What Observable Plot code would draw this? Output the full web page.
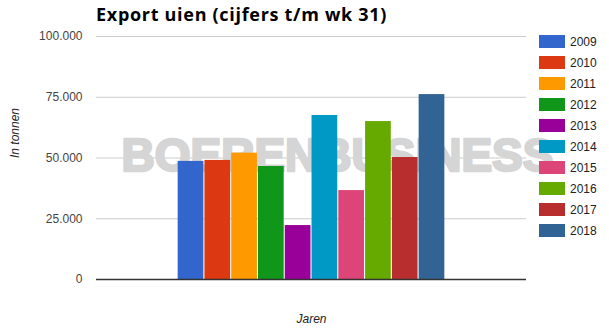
<!DOCTYPE html>
<html>
<head>
<meta charset="utf-8">
<script src="https://cdn.jsdelivr.net/npm/d3@7"></script>
<script src="https://cdn.jsdelivr.net/npm/@observablehq/plot@0.6"></script>
<style>
  html, body { margin: 0; padding: 0; background: #fff; }
  #wrap { position: relative; width: 609px; height: 336px; overflow: hidden; font-family: Arial, "Liberation Sans", sans-serif; }
  #title { position: absolute; left: 96px; top: 2px; font-family: "Open Sans", sans-serif; font-weight: bold; font-size: 18px; letter-spacing: 0.7px; color: #000; white-space: nowrap; }
  #legend { position: absolute; left: 539px; top: 35px; }
  .item { display: flex; align-items: center; height: 13px; margin-bottom: 8px; font-family: Arial, "Liberation Sans", sans-serif; font-size: 12px; color: #222; }
  .sw { width: 26px; height: 13px; margin-right: 5px; }
  #chart { position: absolute; left: 0; top: 0; }
</style>
</head>
<body>
<div id="wrap">
  <div id="chart"></div>
  <div id="title">Export uien (cijfers t/m wk 31)</div>
  <div id="legend"></div>
</div>
<script>
const years = ["2009","2010","2011","2012","2013","2014","2015","2016","2017","2018"];
const tonnes = [48600, 49000, 52000, 46500, 22200, 67500, 36600, 65000, 50200, 76100];
const colors = ["#3366cc","#dc3912","#ff9900","#109618","#990099","#0099c6","#dd4477","#66aa00","#b82e2e","#316395"];
const yTicks = [0, 25000, 50000, 75000, 100000];
const title = "Export uien (cijfers t/m wk 31)";
const yLabel = "In tonnen";
const xLabel = "Jaren";
const watermark = "BOERENBUSINESS";

const data = years.map((y, i) => ({year: y, value: tonnes[i]}));
const fmt = d => d3.format(",")(d).replace(/,/g, ".");

const plot = Plot.plot({
  width: 609,
  height: 336,
  marginTop: 36,
  marginBottom: 57,
  marginLeft: 96,
  marginRight: 83,
  style: {fontFamily: "Arial, 'Liberation Sans', sans-serif", fontSize: "12px", background: "#fff"},
  x: {domain: years, paddingInner: 0.04, paddingOuter: 3.05, round: false, axis: null},
  y: {domain: [0, 100000], ticks: yTicks, tickFormat: fmt, label: null},
  color: {domain: years, range: colors},
  marks: [
    Plot.gridY(yTicks, {stroke: "#cccccc", strokeOpacity: 1}),
    Plot.text([watermark], {frameAnchor: "middle", dx: 26, dy: -2, text: d => d, fontSize: 46, fontWeight: "bold", fill: "#d5d5d5", stroke: "#d5d5d5", strokeWidth: 2.5, letterSpacing: "2px"}),
    Plot.barY(data, {x: "year", y: "value", fill: "year"}),
    Plot.ruleY([0], {stroke: "#333333", strokeWidth: 1.5}),
    Plot.axisY({ticks: yTicks, tickFormat: fmt, tickSize: 0, tickPadding: 14, fill: "#444444", fontSize: 12, label: null}),
    Plot.text([yLabel], {frameAnchor: "left", dx: -81, rotate: -90, text: d => d, fontStyle: "italic", fontSize: 12, fill: "#222"}),
    Plot.text([xLabel], {frameAnchor: "bottom", dy: 43, text: d => d, fontStyle: "italic", fontSize: 12, fill: "#222"})
  ]
});
document.getElementById("chart").appendChild(plot);

const color = plot.scale("color");
const legend = d3.select("#legend");
years.forEach(y => {
  const item = legend.append("div").attr("class", "item");
  item.append("div").attr("class", "sw").style("background", color.apply(y));
  item.append("span").text(y);
});
</script>
</body>
</html>
